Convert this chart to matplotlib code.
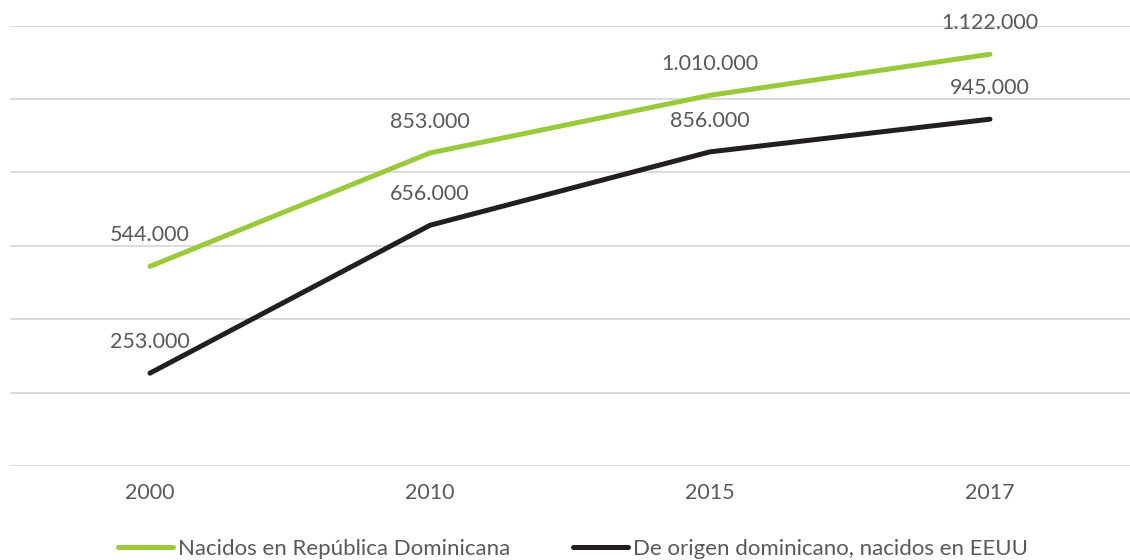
import matplotlib
matplotlib.use("Agg")
import matplotlib.pyplot as plt

years = ["2000", "2010", "2015", "2017"]
nacidos_rd = [544000, 853000, 1010000, 1122000]
origen_eeuu = [253000, 656000, 856000, 945000]
series_names = ["Nacidos en República Dominicana", "De origen dominicano, nacidos en EEUU"]
colors = ["#9ACA3C", "#231F20"]

plt.rcParams['font.family'] = ['Lato', 'DejaVu Sans']
text_color = "#595959"

fig = plt.figure(figsize=(11.3, 5.6), dpi=100)
ax = fig.add_axes([10/1130, (560-466)/560, 1120/1130, 440.4/560])

x = list(range(len(years)))
for vals, name, c in zip([nacidos_rd, origen_eeuu], series_names, colors):
    ax.plot(x, vals, color=c, lw=3.6, solid_capstyle='round', label=name, zorder=3)
    for xi, v in zip(x, vals):
        ax.annotate(f"{v:,}".replace(",", "."), (xi, v), xytext=(0, 22.5),
                    textcoords='offset points', ha='center', va='center',
                    fontsize=15.5, color=text_color)

ax.set_xlim(-0.5, len(years) - 0.5)
ax.set_ylim(0, 1200000)
ax.set_yticks(range(0, 1200001, 200000))
ax.yaxis.grid(True, color="#D9D9D9", lw=1.3)
ax.set_axisbelow(True)
ax.tick_params(axis='y', left=False, labelleft=False)
ax.set_xticks(x)
ax.set_xticklabels(years, fontsize=15.5, color=text_color)
ax.tick_params(axis='x', length=0, pad=12)
for s in ax.spines.values():
    s.set_visible(False)

leg = fig.legend(loc='center', bbox_to_anchor=(573/1130, 1 - 549/560), ncol=2, frameon=False,
                 fontsize=16, handlelength=2.5, handletextpad=0.22, columnspacing=2.8,
                 borderaxespad=0, borderpad=0)
for t in leg.get_texts():
    t.set_color(text_color)

fig.savefig("out.png", dpi=100)
